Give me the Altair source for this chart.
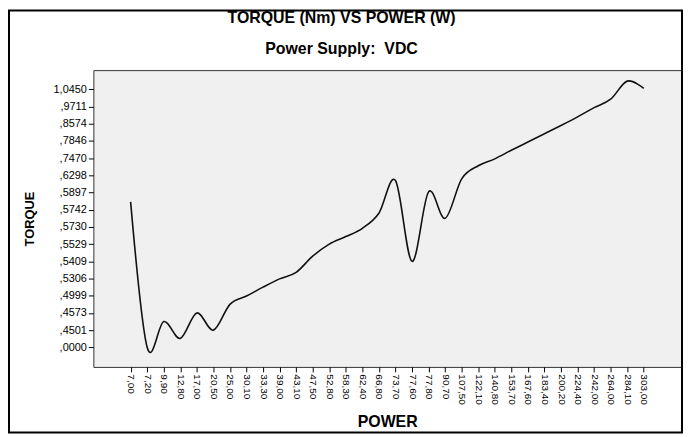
import altair as alt
import pandas as pd

# x categories (POWER, W) as labelled on the axis, in axis order
power_labels = ["7,00", "7,20", "9,90", "12,80", "17,00", "20,50", "25,00", "30,10",
                "33,30", "39,00", "43,10", "47,50", "52,80", "58,30", "62,40", "66,80",
                "73,70", "77,60", "77,80", "90,70", "107,50", "122,10", "140,80", "153,70",
                "167,60", "183,40", "200,20", "224,40", "242,00", "264,00", "284,10", "303,00"]

# y categories (TORQUE) from bottom to top, evenly spaced on the axis
torque_labels = [",0000", ",4501", ",4573", ",4999", ",5306", ",5409", ",5529", ",5730",
                 ",5742", ",5897", ",6298", ",7470", ",7846", ",8574", ",9711", "1,0450"]

# position of the line on the torque category axis (0 = ",0000", 15 = "1,0450")
torque_position = [8.46, 0.0, 1.5, 0.52, 2.0, 1.0, 2.5, 2.98,
                   3.5, 3.98, 4.36, 5.3, 6.0, 6.44, 6.92, 7.8,
                   9.7, 5.0, 9.04, 7.5, 9.8, 10.56, 10.96, 11.46,
                   11.94, 12.42, 12.9, 13.4, 13.94, 14.43, 15.48, 15.06]

title_text = "TORQUE (Nm) VS POWER (W)"
subtitle_text = "Power Supply:\u00a0 VDC"

df = pd.DataFrame({
    "POWER_POS": list(range(len(power_labels))),
    "POWER": power_labels,
    "TORQUE": torque_position,
})

W, H = 592, 299
FONT = "Arial, Liberation Sans, sans-serif"


def js_array(items):
    return "[" + ",".join("'" + s + "'" for s in items) + "]"


line = alt.Chart(df).mark_line(color="#111111", strokeWidth=1.6, interpolate="cardinal").encode(
    x=alt.X("POWER_POS:Q",
            scale=alt.Scale(domain=[-2.25, len(power_labels) + 1.25], nice=False, zero=False),
            axis=alt.Axis(title="POWER", values=list(range(len(power_labels))),
                          labelExpr=js_array(power_labels) + "[datum.value]",
                          labelAngle=90, labelAlign="left", labelBaseline="middle",
                          labelFontSize=10, labelColor="#000", labelFlush=False, labelOverlap=False,
                          tickColor="#000", tickSize=5, domain=False, grid=False,
                          titleFontSize=16, titleFontWeight="bold", titleColor="#000",
                          titleX=W / 2, titleY=55, titleBaseline="middle", titleAlign="center",
                          labelPadding=2)),
    y=alt.Y("TORQUE:Q",
            scale=alt.Scale(domain=[-1.14, 16.12], nice=False, zero=False),
            axis=alt.Axis(title="TORQUE", values=list(range(len(torque_labels))),
                          labelExpr=js_array(torque_labels) + "[datum.value]",
                          labelFontSize=11, labelColor="#000", labelOverlap=False,
                          tickColor="#000", tickSize=5,
                          domain=False, grid=False, labelPadding=2,
                          titleFontSize=13, titleFontWeight="bold", titleColor="#000",
                          titleX=-64, titleY=H / 2, titleAngle=270,
                          titleBaseline="middle", titleAlign="center")),
)

one = pd.DataFrame({"f": [0]})

frame = alt.Chart(one).mark_rect(
    fillOpacity=0, stroke="#000", strokeWidth=2
).encode(
    x=alt.value(-85), x2=alt.value(W + 1), y=alt.value(-60), y2=alt.value(H + 66)
)

title_mark = alt.Chart(one).mark_text(
    text=title_text, font=FONT, fontSize=16, fontWeight="bold", color="#000",
    align="center", baseline="middle"
).encode(x=alt.value(250), y=alt.value(-52))

subtitle_mark = alt.Chart(one).mark_text(
    text=subtitle_text, font=FONT, fontSize=16, fontWeight="bold", color="#000",
    align="center", baseline="middle"
).encode(x=alt.value(250), y=alt.value(-21))

chart = alt.layer(line, frame, title_mark, subtitle_mark).properties(
    width=W, height=H,
    autosize=alt.AutoSizeParams(type="none"),
    padding={"left": 86, "top": 61, "right": 2, "bottom": 67},
).configure(
    font=FONT,
    background="white",
).configure_view(
    fill="#F0F0F0", stroke="#333333", strokeWidth=1
).configure_axis(
    labelFont=FONT, titleFont=FONT
)

chart.save("out.html", embed_options={"renderer": "svg", "actions": False})
